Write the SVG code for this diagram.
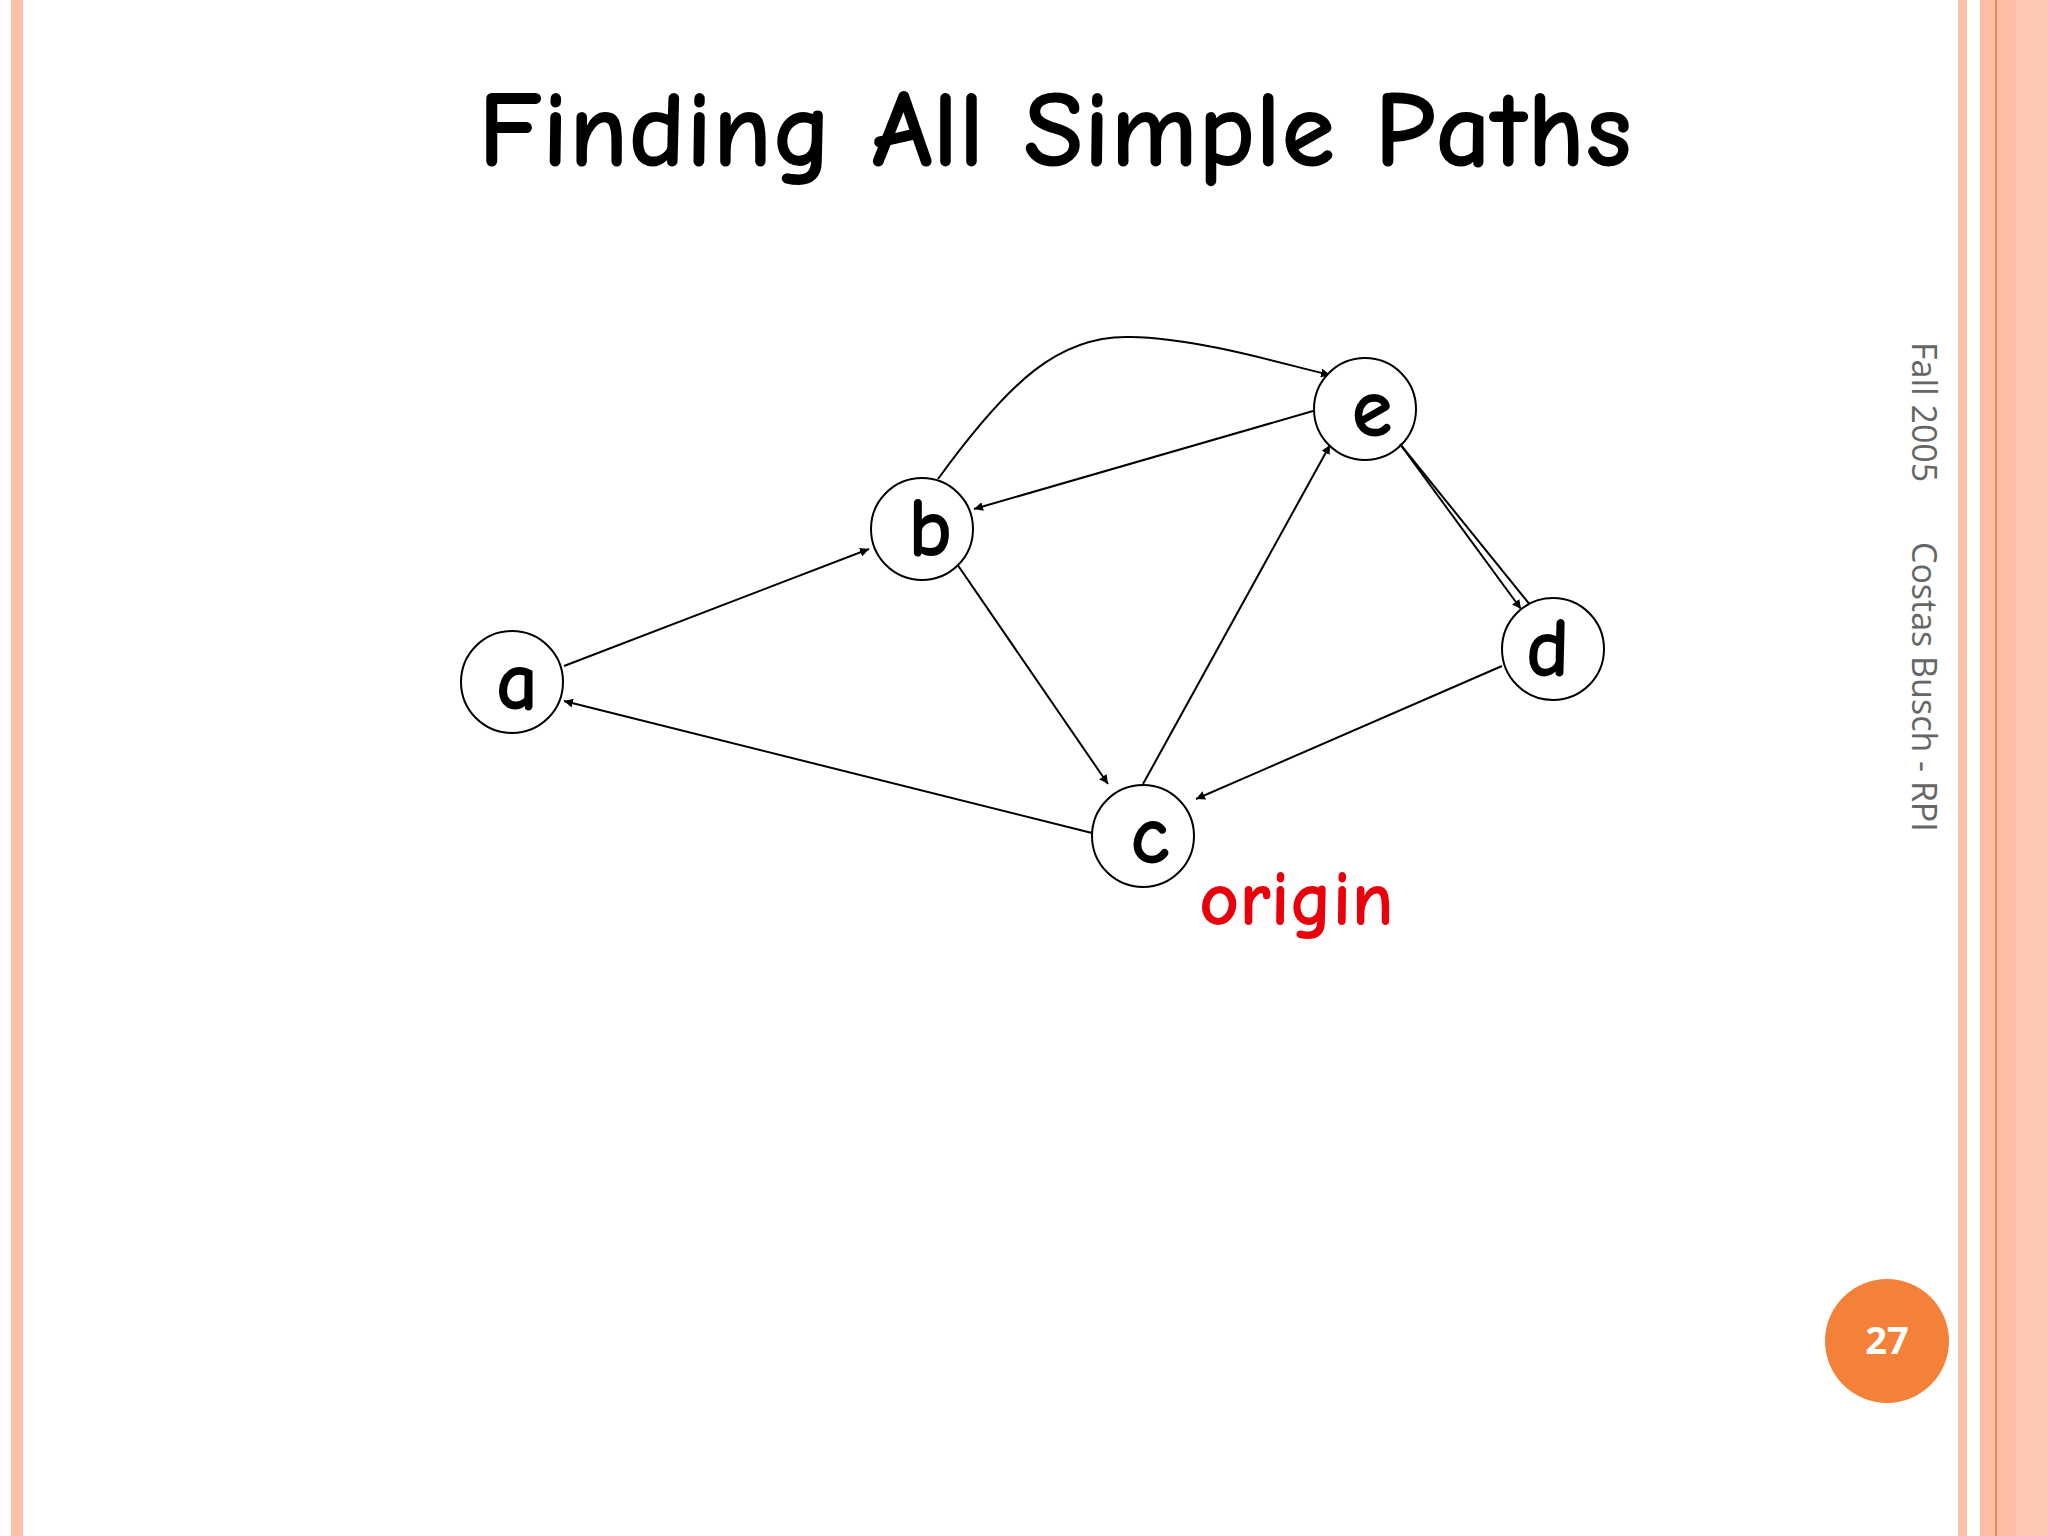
<svg xmlns="http://www.w3.org/2000/svg" width="2048" height="1536" viewBox="0 0 2048 1536">
<style>
.n{fill:#fff;stroke:#000;stroke-width:2}
.l{font-family:"Comic Neue","DejaVu Sans",sans-serif;font-size:84px;font-weight:bold;text-anchor:middle}
.e{fill:none;stroke:#000;stroke-width:2;marker-end:url(#ah)}
</style>
<defs><marker id="ah" viewBox="0 0 10 10" refX="10" refY="5" markerWidth="9" markerHeight="9" markerUnits="userSpaceOnUse" orient="auto"><path d="M0,0L10,5L0,10z"/></marker></defs>
<rect width="2048" height="1536" fill="#fefffe"/>
<rect x="11" y="0" width="12" height="1536" fill="#fcc0a8"/>
<rect x="1958" y="0" width="9" height="1536" fill="#fcc0a8"/>
<rect x="1980" y="0" width="68" height="1536" fill="#fdc9b4"/>
<rect x="1980" y="0" width="36" height="1536" fill="#fcbfa6"/>
<rect x="1995" y="0" width="2" height="1536" fill="#f08a4b"/>
<text x="1055" y="166" font-family="'Comic Neue','DejaVu Sans',sans-serif" font-size="110" font-weight="bold" text-anchor="middle">Finding All Simple Paths</text>
<g id="edges">
<path class="e" d="M564,666L869,549"/>
<path class="e" d="M957,564L1108,784"/>
<path class="e" d="M1092,833L564,701"/>
<path class="e" d="M1143,784L1330,445"/>
<path class="e" d="M1313,411L974,509"/>
<path class="e" d="M1400,444L1535,611"/>
<path class="e" d="M1502,666L1196,799"/>
<path class="e" d="M938,479C1010,380 1060,335 1130,337C1200,338 1290,366 1330,375"/>
</g>
<g id="a"><circle class="n" cx="512" cy="682" r="51"/><text class="l" x="517" y="709">a</text></g>
<g id="b"><circle class="n" cx="922" cy="529" r="51"/><text class="l" x="930" y="556">b</text></g>
<g id="e"><circle class="n" cx="1365" cy="409" r="51"/><text class="l" x="1372" y="436">e</text></g>
<g id="d"><circle class="n" cx="1553" cy="649" r="51"/><text class="l" x="1548" y="676">d</text></g>
<g id="c"><circle class="n" cx="1143" cy="836" r="51"/><text class="l" x="1150" y="863">c</text></g>
<path class="e" d="M1400,444L1521,609"/>
<text x="1199" y="925" font-family="'Comic Neue','DejaVu Sans',sans-serif" font-size="78" font-weight="bold" fill="#e8000b">origin</text>
<text transform="translate(1912,342) rotate(90)" font-family="'Open Sans','DejaVu Sans',sans-serif" font-size="34" fill="#666">Fall 2005</text>
<text transform="translate(1912,542) rotate(90)" font-family="'Open Sans','DejaVu Sans',sans-serif" font-size="34" fill="#666">Costas Busch - RPI</text>
<circle cx="1887" cy="1341" r="62" fill="#f4813a"/>
<text x="1887" y="1354" font-family="'Open Sans','DejaVu Sans',sans-serif" font-size="38" font-weight="bold" fill="#fff" text-anchor="middle">27</text>
</svg>
